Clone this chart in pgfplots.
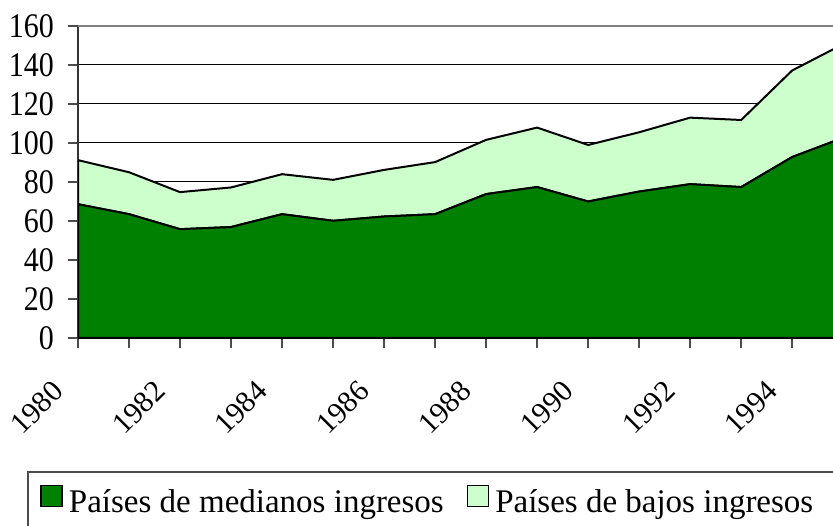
\documentclass[border=0pt]{standalone}
\usepackage{fontspec}
\setmainfont{Liberation Serif}
\usepackage{pgfplots}
\pgfplotsset{compat=1.18}
\usepackage{pgfplotstable}
\definecolor{medgreen}{RGB}{0,128,0}
\definecolor{lowgreen}{RGB}{204,255,204}

\pgfplotstableread{
year med low
1980 68.6 22.6
1981 63.5 21.5
1982 55.8 19.0
1983 56.9 20.3
1984 63.5 20.5
1985 60.1 21.0
1986 62.3 23.9
1987 63.5 26.7
1988 73.8 27.8
1989 77.4 30.5
1990 70.0 29.0
1991 75.1 30.4
1992 78.9 34.1
1993 77.4 34.4
1994 92.8 44.4
1995 102.7 48.0
}\data

\begin{document}
\begin{tikzpicture}
\useasboundingbox (0pt,0pt) rectangle (833pt,526pt);
\begin{axis}[
  at={(78pt,188pt)}, anchor=south west,
  scale only axis, width=755pt, height=312pt,
  xmin=1980, xmax=1994.8, ymin=0, ymax=160,
  stack plots=y,
  axis x line*=bottom, axis y line*=left,
  x axis line style={black, line width=2pt},
  y axis line style={black!80, line width=2pt},
  ytick={0,20,...,140},
  extra y ticks={160},
  extra y tick style={major grid style={black!50, line width=2pt}},
  ymajorgrids,
  major grid style={black, line width=1pt},
  xtick={1980,1982,...,1994},
  minor xtick={1981,1983,...,1993},
  tick align=outside,
  major tick length=10pt, minor tick length=10pt,
  tick style={black!70, line width=1.5pt},
  every tick label/.append style={font=\fontsize{30}{30}\selectfont},
  /pgf/number format/assume math mode=true,
  /pgf/number format/1000 sep={},
  xticklabel style={xshift=-27pt, yshift=-31pt, rotate=45, anchor=north east, inner sep=0pt},
  yticklabel style={inner sep=0pt, xshift=-14pt, yscale=1.15},
  legend columns=2,
  legend style={at={(-0.05,-0.47)}, anchor=north west, draw=none, fill=none,
    font=\fontsize{33}{33}\selectfont, inner sep=0pt,
    /tikz/every odd column/.append style={column sep=4pt},
    /tikz/every even column/.append style={column sep=21pt}},
  legend image code/.code={\draw[#1,draw=black,line width=1.5pt] (0pt,-5pt) rectangle (21pt,16pt);},
]
\addplot[fill=medgreen, draw=black, line width=2pt] table[x=year,y=med]{\data} \closedcycle;
\addplot[fill=lowgreen, draw=black, line width=2pt] table[x=year,y=low]{\data} \closedcycle;
\legend{Países de medianos ingresos, Países de bajos ingresos}
\end{axis}
\draw[black!70, line width=1.5pt] (28pt,-20pt) |- (900pt,54pt);
\end{tikzpicture}
\end{document}
